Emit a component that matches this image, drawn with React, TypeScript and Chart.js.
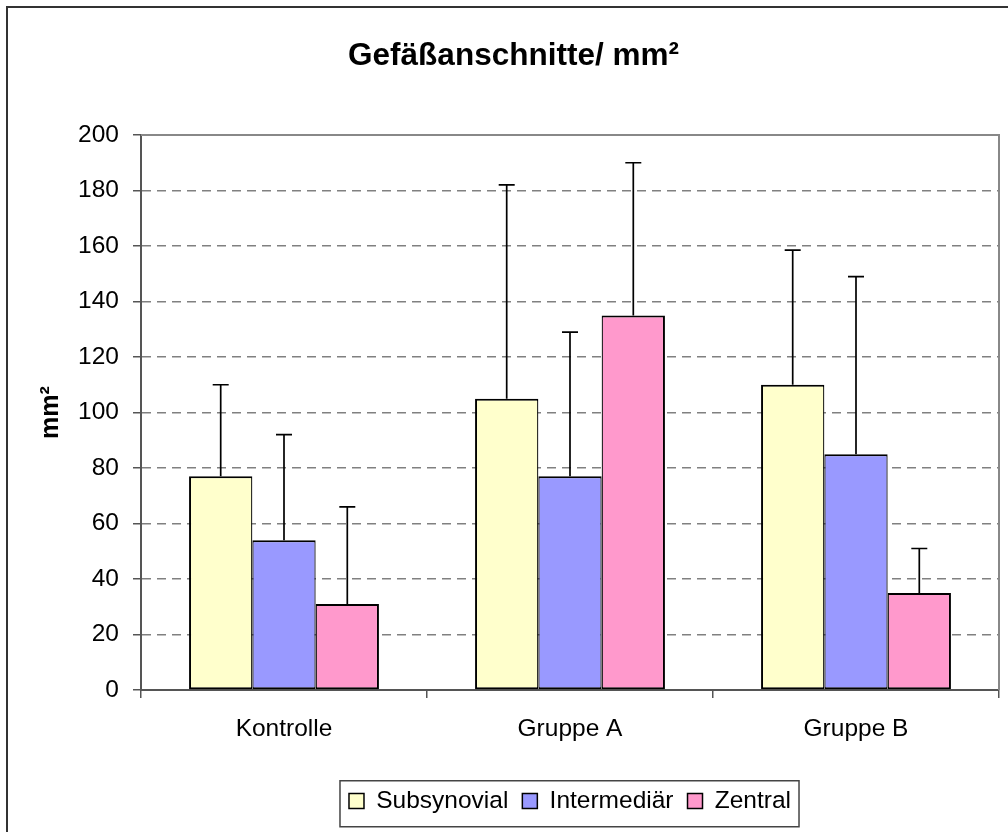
import React, { useEffect, useRef } from 'react';
import { Chart, registerables } from 'chart.js';

Chart.register(...registerables);

const categories = ['Kontrolle', 'Gruppe A', 'Gruppe B'];
const seriesNames = ['Subsynovial', 'Intermediär', 'Zentral'];
const subsynovial = [77, 105, 110];
const intermediaer = [54, 77, 85];
const zentral = [31, 135, 35];
const subsynovialSD = [33, 77, 48.5];
const intermediaerSD = [38, 52, 64];
const zentralSD = [35, 55, 16];
const seriesColors = ['#FFFFCC', '#9999FF', '#FF99CC'];
const yMin = 0;
const yMax = 200;
const yStep = 20;

const FONT = '"Liberation Sans", Arial, Helvetica, sans-serif';
const seriesValues = [subsynovial, intermediaer, zentral];
const seriesErrors = [subsynovialSD, intermediaerSD, zentralSD];

const customPlugin = {
  id: 'customDecor',
  beforeDraw(chart: any) {
    const { ctx, width, height } = chart;
    ctx.save();
    ctx.fillStyle = '#ffffff';
    ctx.fillRect(0, 0, width, height);
    ctx.strokeStyle = '#333333';
    ctx.lineWidth = 2;
    ctx.beginPath();
    ctx.moveTo(7, height + 5);
    ctx.lineTo(7, 7);
    ctx.lineTo(width + 5, 7);
    ctx.stroke();
    ctx.restore();
  },
  beforeDatasetsDraw(chart: any) {
    const { ctx, chartArea } = chart;
    ctx.save();
    ctx.strokeStyle = '#888888';
    ctx.lineWidth = 2;
    ctx.beginPath();
    ctx.moveTo(chartArea.left, chartArea.top);
    ctx.lineTo(chartArea.right, chartArea.top);
    ctx.lineTo(chartArea.right, chartArea.bottom);
    ctx.stroke();
    ctx.restore();
  },
  afterDatasetsDraw(chart: any) {
    const { ctx } = chart;
    const yScale = chart.scales.y;
    ctx.save();
    ctx.strokeStyle = '#000000';
    ctx.lineWidth = 1.7;
    chart.data.datasets.forEach((ds: any, i: number) => {
      const meta = chart.getDatasetMeta(i);
      meta.data.forEach((el: any, j: number) => {
        const v = ds.data[j];
        const e = seriesErrors[i][j];
        const x = el.x;
        const yb = el.y;
        const yt = yScale.getPixelForValue(v + e);
        ctx.beginPath();
        ctx.moveTo(x, yb);
        ctx.lineTo(x, yt);
        ctx.moveTo(x - 8, yt);
        ctx.lineTo(x + 8, yt);
        ctx.stroke();
      });
    });
    ctx.restore();
  },
  afterDraw(chart: any) {
    const legend = chart.legend;
    if (!legend || !legend.legendHitBoxes || !legend.legendHitBoxes.length) return;
    const boxes = legend.legendHitBoxes;
    let minL = Infinity;
    let maxR = -Infinity;
    let top = Infinity;
    boxes.forEach((b: any) => {
      minL = Math.min(minL, b.left);
      maxR = Math.max(maxR, b.left + b.width);
      top = Math.min(top, b.top);
    });
    const { ctx } = chart;
    ctx.save();
    ctx.strokeStyle = '#444444';
    ctx.lineWidth = 1.5;
    ctx.strokeRect(minL - 9, top - 8, maxR - minL + 17, 46);
    ctx.restore();
  },
};

export default function App() {
  const canvasRef = useRef<HTMLCanvasElement | null>(null);

  useEffect(() => {
    document.body.style.margin = '0';
    const canvas = canvasRef.current;
    if (!canvas) return;
    const tickFont = { family: FONT, size: 24.5 };
    const chart = new Chart(canvas, {
      type: 'bar',
      data: {
        labels: categories,
        datasets: seriesNames.map((name, i) => ({
          label: name,
          data: seriesValues[i],
          backgroundColor: seriesColors[i],
          borderColor: '#000000',
          borderWidth: {
            top: 2,
            bottom: 2,
            left: i === 0 ? 2 : 1.25,
            right: i === seriesNames.length - 1 ? 2 : 1.25,
          },
          borderSkipped: false,
          categoryPercentage: 0.664,
          barPercentage: 1,
        })),
      },
      options: {
        animation: false,
        responsive: false,
        devicePixelRatio: 1,
        events: [],
        layout: { padding: { left: 28, right: 9, top: 0, bottom: 8.75 } },
        plugins: {
          title: {
            display: true,
            text: 'Gefäßanschnitte/ mm²',
            color: '#000000',
            font: { family: FONT, size: 31.5, weight: 'bold' },
            padding: { top: 37, bottom: 60.2 },
          },
          legend: {
            position: 'bottom',
            fullSize: false,
            labels: {
              boxWidth: 15,
              boxHeight: 15,
              padding: 14,
              color: '#000000',
              font: tickFont,
              generateLabels: (c: any) =>
                Chart.defaults.plugins.legend.labels
                  .generateLabels(c)
                  .map((l: any) => ({ ...l, lineWidth: 1.5, strokeStyle: '#000000' })),
            },
          },
          tooltip: { enabled: false },
        },
        scales: {
          x: {
            grid: {
              offset: true,
              drawOnChartArea: false,
              drawTicks: true,
              tickLength: 8,
              tickColor: '#555555',
              tickWidth: 1.5,
              lineWidth: 1.5,
            },
            border: { color: '#555555', width: 2 },
            ticks: { color: '#000000', font: tickFont, padding: 17, maxRotation: 0 },
            afterFit: (s: any) => {
              s.height = 84.75;
            },
          },
          y: {
            min: yMin,
            max: yMax,
            ticks: { stepSize: yStep, color: '#000000', font: tickFont, padding: 14 },
            grid: {
              color: (ctx: any) =>
                ctx.tick && (ctx.tick.value === yMin || ctx.tick.value === yMax)
                  ? 'rgba(0,0,0,0)'
                  : '#808080',
              lineWidth: 1.5,
              tickLength: 8,
              tickColor: '#555555',
              tickWidth: 1.5,
              tickBorderDash: [],
            },
            border: { color: '#555555', width: 2, dash: [9, 6] },
            title: {
              display: true,
              text: 'mm²',
              color: '#000000',
              font: { family: FONT, size: 25, weight: 'bold' },
              padding: { top: 8, bottom: 0 },
            },
            afterFit: (s: any) => {
              s.width = 113;
            },
          },
        },
      },
      plugins: [customPlugin],
    } as any);
    return () => {
      chart.destroy();
    };
  }, []);

  return (
    <div style={{ position: 'relative', width: 1008, height: 832, overflow: 'hidden' }}>
      <canvas ref={canvasRef} width={1008} height={832} style={{ display: 'block' }} />
    </div>
  );
}
